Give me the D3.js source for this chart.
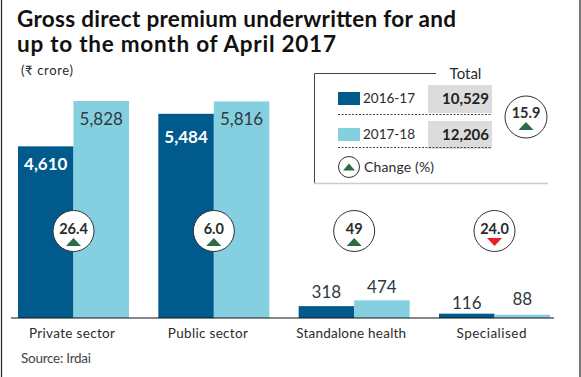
<!DOCTYPE html>
<html><head><meta charset="utf-8">
<script src="https://cdn.jsdelivr.net/npm/d3@7"></script>
<style>html,body{margin:0;padding:0;background:#fff}svg{display:block}text{font-family:Lato,"Noto Sans",sans-serif}</style>
</head><body><div id="c"></div>
<script>
const categories=["Private sector","Public sector","Standalone health","Specialised"];
const years=["2016-17","2017-18"];
const values2016=[4610,5484,318,116];
const values2017=[5828,5816,474,88];
const changes=[26.4,6.0,49,-24.0];
const changeLabels=["26.4","6.0","49","24.0"];
const totals=[10529,12206];
const totalChangeLabel="15.9";
const colors=["#005a8c","#84d0e0"];
const W=581,H=377;
const svg=d3.select("#c").append("svg").attr("width",W).attr("height",H);
const fmt=d3.format(",");
const UP="#2c6b45",DOWN="#e8202a",INK="#2b2b2b";
svg.append("path").attr("d",`M1.5,0V${H}M580,0V${H}`).attr("stroke","#222").attr("stroke-width",1.2).attr("fill","none");
const title=svg.append("g").attr("fill","#111").attr("font-weight",700).attr("font-size",22.5);
title.append("text").attr("x",17).attr("y",27).attr("textLength",439).attr("lengthAdjust","spacing").text("Gross direct premium underwritten for and");
title.append("text").attr("x",17).attr("y",52).attr("textLength",319).attr("lengthAdjust","spacing").text("up to the month of April 2017");
svg.append("text").attr("x",21).attr("y",75).attr("font-size",13).attr("fill",INK).attr("textLength",52).text("(₹ crore)");

const x0=d3.scaleBand().domain(categories).range([18,550]).paddingInner(0.209);
const x1=d3.scaleBand().domain(years).range([0,x0.bandwidth()]);
const y=d3.scaleLinear().domain([0,5828]).range([318,101]);
const rows=categories.map((c,i)=>[{c,yr:years[0],v:values2016[i]},{c,yr:years[1],v:values2017[i]}]).flat();
svg.selectAll("rect.bar").data(rows).join("rect").attr("class","bar")
 .attr("x",d=>x0(d.c)+x1(d.yr)).attr("width",x1.bandwidth())
 .attr("y",d=>y(d.v)).attr("height",d=>y(0)-y(d.v))
 .attr("fill",d=>colors[years.indexOf(d.yr)]);
const big=d=>d.v>1000;
const labelGap=[24,24,29,24,8,7,5,10];
svg.selectAll("text.val").data(rows).join("text").attr("class","val")
 .attr("x",d=>x0(d.c)+x1(d.yr)+x1.bandwidth()/2).attr("text-anchor","middle")
 .attr("y",(d,i)=>big(d)?y(d.v)+labelGap[i]:y(d.v)-labelGap[i])
 .attr("font-size",17)
 .attr("font-weight",d=>big(d)&&d.yr===years[0]?700:400)
 .attr("fill",d=>big(d)&&d.yr===years[0]?"#fff":"#2f3a3f")
 .text(d=>fmt(d.v));

const axis=d3.axisBottom(x0).tickSize(0).tickPadding(10);
const ag=svg.append("g").attr("transform","translate(0,318)").call(axis);
ag.select(".domain").remove();
ag.append("line").attr("x1",11).attr("x2",554).attr("stroke","#111").attr("stroke-width",1.2);
const tickShift=[-1.5,-6,-3,-3],tickWidth=[86,80,110,70];
ag.selectAll(".tick text").attr("font-size",13.5).attr("fill",INK).style("font-family","Lato,sans-serif")
 .attr("dx",(d,i)=>tickShift[i]).attr("textLength",(d,i)=>tickWidth[i]);

function bubble(g,cx,cy,r,label,up,fs,lift){
 g.append("circle").attr("cx",cx).attr("cy",cy).attr("r",r).attr("fill","#fff").attr("stroke","#333").attr("stroke-width",1);
 if(label!==null)g.append("text").attr("x",cx).attr("y",cy+3-lift).attr("text-anchor","middle").attr("font-size",fs).attr("font-weight",700).attr("fill",INK).text(label);
 const ty=label!==null?cy+11-lift:cy;
 const s=label!==null?7.5:6;
 const h=label!==null?4:3.5;
 const pts=up?[[cx-s,ty+h],[cx+s,ty+h],[cx,ty-h]]:[[cx-s,ty-h],[cx+s,ty-h],[cx,ty+h]];
 g.append("path").attr("d",d3.line()(pts)+"Z").attr("fill",up?UP:DOWN);
}
categories.forEach((c,i)=>bubble(svg.append("g"),x0(c)+x0.bandwidth()/2,231,20.5,changeLabels[i],changes[i]>=0,14.5,0));

const lg=svg.append("g");
lg.append("path").attr("d","M436,73.5H314.5V183").attr("fill","none").attr("stroke","#444").attr("stroke-width",1);
lg.append("line").attr("x1",314).attr("x2",548).attr("y1",183.5).attr("y2",183.5).attr("stroke","#ccc").attr("stroke-width",1.5);
lg.append("text").attr("x",465.5).attr("y",79).attr("text-anchor","middle").attr("font-size",15).attr("fill",INK).text("Total");
years.forEach((yr,i)=>{
 const top=85+i*36;
 lg.append("rect").attr("x",428).attr("y",top).attr("width",64).attr("height",28).attr("fill","#dcdcdc");
 lg.append("rect").attr("x",338).attr("y",top+7).attr("width",22).attr("height",13).attr("fill",colors[i]);
 lg.append("text").attr("x",363).attr("y",top+18).attr("font-size",13.5).attr("fill",INK).text(yr);
 lg.append("text").attr("x",489).attr("y",top+19).attr("text-anchor","end").attr("font-size",15).attr("font-weight",700).attr("fill","#222").text(fmt(totals[i]));
 lg.append("line").attr("x1",338).attr("x2",492).attr("y1",114.5+i*33).attr("y2",114.5+i*33).attr("stroke","#444").attr("stroke-dasharray","2,1.5");
});
bubble(lg,526,117,21,totalChangeLabel,true,14.5,2);
bubble(lg,349,167,10.5,null,true,0,0);
lg.append("text").attr("x",364).attr("y",172).attr("font-size",14).attr("fill",INK).attr("textLength",70).text("Change (%)");
svg.append("text").attr("x",21).attr("y",363).attr("font-size",13.5).attr("fill","#444").attr("textLength",70).text("Source: Irdai");
</script></body></html>
